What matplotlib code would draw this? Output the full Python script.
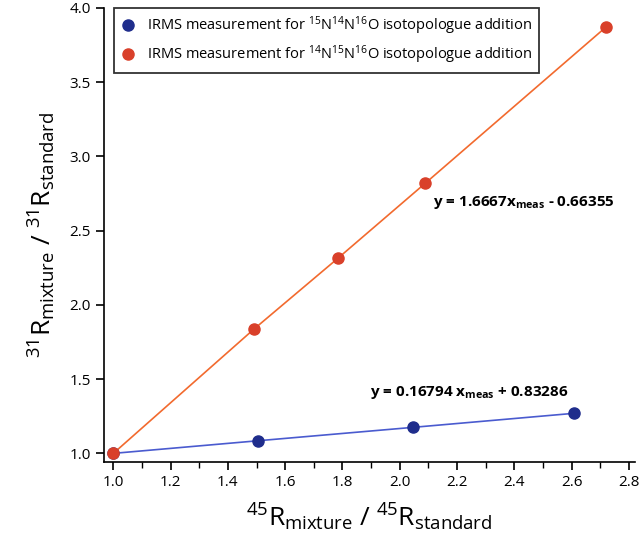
import matplotlib
matplotlib.use("Agg")
import matplotlib.pyplot as plt
from matplotlib.ticker import MultipleLocator

plt.rcParams['font.family'] = ['Open Sans', 'DejaVu Sans']
plt.rcParams['mathtext.fontset'] = 'custom'
plt.rcParams['mathtext.rm'] = 'Open Sans'
plt.rcParams['mathtext.it'] = 'Open Sans'
plt.rcParams['mathtext.bf'] = 'Open Sans:bold'

# measured ratios (x = 45R ratio, y = 31R ratio)
x_15N14N = [1.0, 1.505, 2.045, 2.61]
y_15N14N = [1.0, 1.085, 1.175, 1.27]
x_14N15N = [1.0, 1.49, 1.785, 2.09, 2.72]
y_14N15N = [1.0, 1.835, 2.315, 2.82, 3.87]

label_blue = r'IRMS measurement for $^{15}$N$^{14}$N$^{16}$O isotopologue addition'
label_red = r'IRMS measurement for $^{14}$N$^{15}$N$^{16}$O isotopologue addition'
fit_red = r'y = 1.6667x$_{\mathbf{meas}}$ - 0.66355'
fit_blue = r'y = 0.16794 x$_{\mathbf{meas}}$ + 0.83286'

fig = plt.figure(figsize=(6.39, 5.59), dpi=100)
ax = fig.add_axes([0.163, 0.173, 0.83, 0.813])

ax.plot(x_15N14N, y_15N14N, '-', color='#4a5bcf', lw=1.2, zorder=2)
ax.plot(x_14N15N, y_14N15N, '-', color='#f26a2e', lw=1.2, zorder=2)
ax.plot(x_15N14N, y_15N14N, 'o', color='#1f2d8c', ms=8, zorder=3, label=label_blue)
ax.plot(x_14N15N, y_14N15N, 'o', color='#d9402a', ms=8, zorder=3, label=label_red)

ax.text(2.115, 2.69, fit_red, fontsize=11, fontweight='bold', va='center')
ax.text(1.895, 1.41, fit_blue, fontsize=11, fontweight='bold', va='center')

ax.set_xlim(0.968, 2.82)
ax.set_ylim(0.94, 4.0)
ax.xaxis.set_major_locator(MultipleLocator(0.2))
ax.xaxis.set_minor_locator(MultipleLocator(0.1))
ax.yaxis.set_major_locator(MultipleLocator(0.5))
ax.tick_params(axis='both', which='major', direction='out', length=6, width=1.2, labelsize=11)
ax.tick_params(axis='x', which='minor', direction='out', length=4, width=1.0)
ax.set_xticks([1.0, 1.2, 1.4, 1.6, 1.8, 2.0, 2.2, 2.4, 2.6, 2.8])
ax.set_xticklabels(['1.0', '1.2', '1.4', '1.6', '1.8', '2.0', '2.2', '2.4', '2.6', '2.8'])

for s in ['top', 'right']:
    ax.spines[s].set_visible(False)
for s in ['left', 'bottom']:
    ax.spines[s].set_linewidth(1.2)

ax.set_xlabel(r'$^{45}$R$_{\mathrm{mixture}}$ / $^{45}$R$_{\mathrm{standard}}$', fontsize=19, labelpad=8)
ax.set_ylabel(r'$^{31}$R$_{\mathrm{mixture}}$ / $^{31}$R$_{\mathrm{standard}}$', fontsize=19, labelpad=8)

leg = ax.legend(loc='upper left', bbox_to_anchor=(0.019, 1.0), borderaxespad=0, fontsize=10.5,
                frameon=True, fancybox=False, edgecolor='black', handletextpad=0.8,
                handlelength=1.0, borderpad=0.45, labelspacing=0.45)
leg.get_frame().set_linewidth(1.3)

fig.savefig('out.png', dpi=100)
